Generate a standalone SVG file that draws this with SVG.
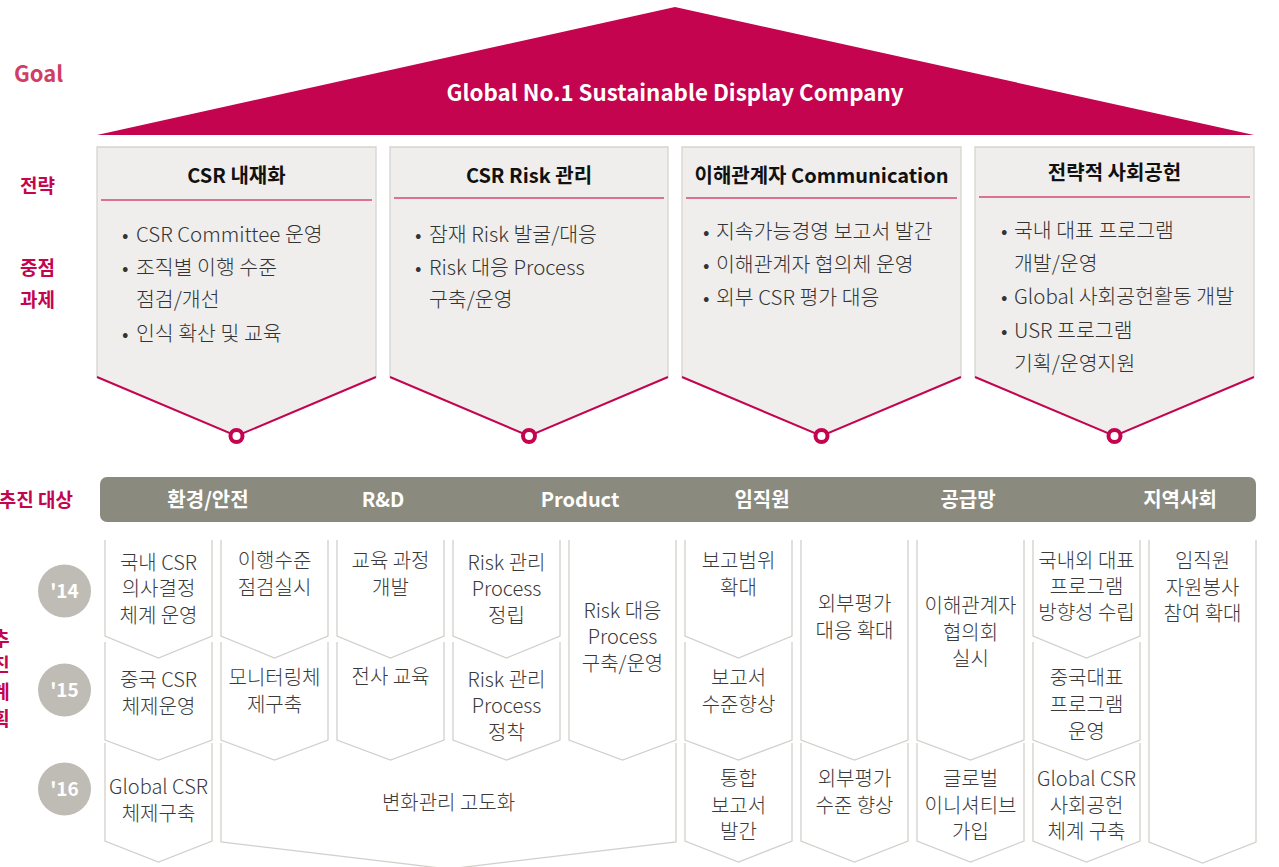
<svg xmlns="http://www.w3.org/2000/svg" width="1279" height="867" viewBox="0 0 1279 867">
<style>
text{font-family:"Noto Sans CJK KR","Noto Sans",sans-serif;}
.lbl{fill:#C4044F;font-weight:700;font-size:19px;}
.goal{fill:#D03D66;font-weight:700;font-size:22px;}
.sbox{fill:#EFEEEC;}
.sside{fill:none;stroke:#D6D4D0;stroke-width:1.3;}
.schev{fill:none;stroke:#C4044F;stroke-width:2;}
.ring{fill:#fff;stroke:#C4044F;stroke-width:4;}
.stitle{fill:#111;font-weight:700;font-size:20px;text-anchor:middle;}
.sline{stroke:#D4477A;stroke-width:1.3;}
.bul{fill:#333;font-weight:300;font-size:20.5px;}
.bar{fill:#8A8A7E;}
.bartxt{fill:#fff;font-weight:700;font-size:20px;text-anchor:middle;}
.yr{fill:#BFBCB5;}
.yrtxt{fill:#fff;font-weight:700;font-size:19px;text-anchor:middle;}
.cell{fill:none;stroke:#D2D0CB;stroke-width:1.3;}
.ct{fill:#3A3A3A;font-weight:300;font-size:20px;text-anchor:middle;}
</style>

<g id="goal">
<polygon points="97,135 675,7 1254,135" fill="#C4044F"/>
<text x="675" y="101" fill="#fff" font-weight="700" font-size="22.3" text-anchor="middle">Global No.1 Sustainable Display Company</text>
</g>

<g id="side-labels">
<text class="goal" x="14" y="82">Goal</text>
<text class="lbl" x="20" y="193">전략</text>
<text class="lbl" x="20" y="275">중점</text>
<text class="lbl" x="20" y="307">과제</text>
<text class="lbl" x="73" y="507" text-anchor="end">추진 대상</text>
<text class="lbl" x="1" y="646" text-anchor="middle">추</text>
<text class="lbl" x="1" y="672" text-anchor="middle">진</text>
<text class="lbl" x="1" y="699" text-anchor="middle">계</text>
<text class="lbl" x="1" y="726" text-anchor="middle">획</text>
</g>

<g id="strategy-1">
<path class="sbox" d="M97,147 H376 V377 L236.5,436 L97,377 Z"/>
<path class="sside" d="M97,377 V147 H376 V377"/>
<path class="schev" d="M97,377 L236.5,436 L376,377"/>
<circle class="ring" cx="236.5" cy="436" r="6"/>
<text class="stitle" x="236.5" y="183">CSR 내재화</text>
<line class="sline" x1="101" y1="200" x2="372" y2="200"/>
<text class="bul" x="122" y="242">•<tspan x="136">CSR Committee 운영</tspan></text>
<text class="bul" x="122" y="275">•<tspan x="136">조직별 이행 수준</tspan></text>
<text class="bul" x="136" y="307">점검/개선</text>
<text class="bul" x="122" y="341">•<tspan x="136">인식 확산 및 교육</tspan></text>
</g>

<g id="strategy-2">
<path class="sbox" d="M390,147 H668 V377 L529,436 L390,377 Z"/>
<path class="sside" d="M390,377 V147 H668 V377"/>
<path class="schev" d="M390,377 L529,436 L668,377"/>
<circle class="ring" cx="529" cy="436" r="6"/>
<text class="stitle" x="529" y="183">CSR Risk 관리</text>
<line class="sline" x1="394" y1="198" x2="664" y2="198"/>
<text class="bul" x="415" y="242">•<tspan x="429">잠재 Risk 발굴/대응</tspan></text>
<text class="bul" x="415" y="275">•<tspan x="429">Risk 대응 Process</tspan></text>
<text class="bul" x="429" y="307">구축/운영</text>
</g>

<g id="strategy-3">
<path class="sbox" d="M682,147 H961 V377 L821.5,436 L682,377 Z"/>
<path class="sside" d="M682,377 V147 H961 V377"/>
<path class="schev" d="M682,377 L821.5,436 L961,377"/>
<circle class="ring" cx="821.5" cy="436" r="6"/>
<text class="stitle" x="821.5" y="183">이해관계자 Communication</text>
<line class="sline" x1="686" y1="198" x2="957" y2="198"/>
<text class="bul" x="703" y="239">•<tspan x="716">지속가능경영 보고서 발간</tspan></text>
<text class="bul" x="703" y="272">•<tspan x="716">이해관계자 협의체 운영</tspan></text>
<text class="bul" x="703" y="305">•<tspan x="716">외부 CSR 평가 대응</tspan></text>
</g>

<g id="strategy-4">
<path class="sbox" d="M975,147 H1254 V377 L1114.5,436 L975,377 Z"/>
<path class="sside" d="M975,377 V147 H1254 V377"/>
<path class="schev" d="M975,377 L1114.5,436 L1254,377"/>
<circle class="ring" cx="1114.5" cy="436" r="6"/>
<text class="stitle" x="1114.5" y="180">전략적 사회공헌</text>
<line class="sline" x1="979" y1="197" x2="1250" y2="197"/>
<text class="bul" x="1001" y="238">•<tspan x="1014">국내 대표 프로그램</tspan></text>
<text class="bul" x="1014" y="271">개발/운영</text>
<text class="bul" x="1001" y="304">•<tspan x="1014">Global 사회공헌활동 개발</tspan></text>
<text class="bul" x="1001" y="338">•<tspan x="1014">USR 프로그램</tspan></text>
<text class="bul" x="1014" y="371">기획/운영지원</text>
</g>

<g id="target-bar">
<rect class="bar" x="100" y="477" width="1156" height="45" rx="7"/>
<text class="bartxt" x="208" y="507">환경/안전</text>
<text class="bartxt" x="383" y="507">R&amp;D</text>
<text class="bartxt" x="580" y="507">Product</text>
<text class="bartxt" x="762" y="507">임직원</text>
<text class="bartxt" x="968" y="507">공급망</text>
<text class="bartxt" x="1180" y="507">지역사회</text>
</g>

<g id="years">
<circle class="yr" cx="64.5" cy="591" r="26.5"/>
<text class="yrtxt" x="64.5" y="598">'14</text>
<circle class="yr" cx="64.5" cy="690" r="26.5"/>
<text class="yrtxt" x="64.5" y="697">'15</text>
<circle class="yr" cx="64.5" cy="789" r="26.5"/>
<text class="yrtxt" x="64.5" y="796">'16</text>
</g>

<g id="col-1">
<path class="cell" d="M105,540 V636 L158.5,658 L212,636 V540"/>
<text class="ct" x="158.5" y="570">국내 CSR</text>
<text class="ct" x="158.5" y="596">의사결정</text>
<text class="ct" x="158.5" y="623">체계 운영</text>
<path class="cell" d="M105,642 V740 L158.5,760 L212,740 V642"/>
<text class="ct" x="158.5" y="687">중국 CSR</text>
<text class="ct" x="158.5" y="714">체제운영</text>
<path class="cell" d="M105,743 V841 L158.5,862 L212,841 V743"/>
<text class="ct" x="158.5" y="794">Global CSR</text>
<text class="ct" x="158.5" y="821">체제구축</text>
</g>

<g id="col-2">
<path class="cell" d="M221,540 V636 L274.5,658 L328,636 V540"/>
<text class="ct" x="274.5" y="568">이행수준</text>
<text class="ct" x="274.5" y="595">점검실시</text>
<path class="cell" d="M221,642 V740 L274.5,760 L328,740 V642"/>
<text class="ct" x="274.5" y="685">모니터링체</text>
<text class="ct" x="274.5" y="712">제구축</text>
</g>

<g id="col-3">
<path class="cell" d="M337,540 V636 L390.5,658 L444,636 V540"/>
<text class="ct" x="390.5" y="568">교육 과정</text>
<text class="ct" x="390.5" y="595">개발</text>
<path class="cell" d="M337,642 V740 L390.5,760 L444,740 V642"/>
<text class="ct" x="390.5" y="684">전사 교육</text>
</g>

<g id="col-4">
<path class="cell" d="M453,540 V636 L506.5,658 L560,636 V540"/>
<text class="ct" x="506.5" y="570">Risk 관리</text>
<text class="ct" x="506.5" y="596">Process</text>
<text class="ct" x="506.5" y="623">정립</text>
<path class="cell" d="M453,642 V740 L506.5,760 L560,740 V642"/>
<text class="ct" x="506.5" y="687">Risk 관리</text>
<text class="ct" x="506.5" y="713">Process</text>
<text class="ct" x="506.5" y="740">정착</text>
</g>

<g id="col-5">
<path class="cell" d="M569,540 V740 L622.5,760 L676,740 V540"/>
<text class="ct" x="622.5" y="618">Risk 대응</text>
<text class="ct" x="622.5" y="644">Process</text>
<text class="ct" x="622.5" y="671">구축/운영</text>
</g>

<g id="change-mgmt">
<path class="cell" d="M221,743 V842 L448.5,869 L676,842 V743"/>
<text class="ct" x="448.5" y="810">변화관리 고도화</text>
</g>

<g id="col-6">
<path class="cell" d="M685,540 V636 L738.5,658 L792,636 V540"/>
<text class="ct" x="738.5" y="568">보고범위</text>
<text class="ct" x="738.5" y="595">확대</text>
<path class="cell" d="M685,642 V740 L738.5,760 L792,740 V642"/>
<text class="ct" x="738.5" y="685">보고서</text>
<text class="ct" x="738.5" y="712">수준향상</text>
<path class="cell" d="M685,743 V841 L738.5,862 L792,841 V743"/>
<text class="ct" x="738.5" y="786">통합</text>
<text class="ct" x="738.5" y="813">보고서</text>
<text class="ct" x="738.5" y="839">발간</text>
</g>

<g id="col-7">
<path class="cell" d="M801,540 V740 L854.5,760 L908,740 V540"/>
<text class="ct" x="854.5" y="611">외부평가</text>
<text class="ct" x="854.5" y="638">대응 확대</text>
<path class="cell" d="M801,743 V841 L854.5,862 L908,841 V743"/>
<text class="ct" x="854.5" y="786">외부평가</text>
<text class="ct" x="854.5" y="813">수준 향상</text>
</g>

<g id="col-8">
<path class="cell" d="M917,540 V740 L970.5,760 L1024,740 V540"/>
<text class="ct" x="970.5" y="613">이해관계자</text>
<text class="ct" x="970.5" y="640">협의회</text>
<text class="ct" x="970.5" y="666">실시</text>
<path class="cell" d="M917,743 V841 L970.5,862 L1024,841 V743"/>
<text class="ct" x="970.5" y="786">글로벌</text>
<text class="ct" x="970.5" y="813">이니셔티브</text>
<text class="ct" x="970.5" y="839">가입</text>
</g>

<g id="col-9">
<path class="cell" d="M1033,540 V636 L1086.5,658 L1140,636 V540"/>
<text class="ct" x="1086.5" y="568">국내외 대표</text>
<text class="ct" x="1086.5" y="594">프로그램</text>
<text class="ct" x="1086.5" y="620">방향성 수립</text>
<path class="cell" d="M1033,642 V740 L1086.5,760 L1140,740 V642"/>
<text class="ct" x="1086.5" y="685">중국대표</text>
<text class="ct" x="1086.5" y="712">프로그램</text>
<text class="ct" x="1086.5" y="739">운영</text>
<path class="cell" d="M1033,743 V841 L1086.5,862 L1140,841 V743"/>
<text class="ct" x="1086.5" y="786">Global CSR</text>
<text class="ct" x="1086.5" y="813">사회공헌</text>
<text class="ct" x="1086.5" y="839">체계 구축</text>
</g>

<g id="col-10">
<path class="cell" d="M1149,540 V842 L1202.5,863 L1256,842 V540"/>
<text class="ct" x="1202.5" y="568">임직원</text>
<text class="ct" x="1202.5" y="595">자원봉사</text>
<text class="ct" x="1202.5" y="621">참여 확대</text>
</g>
</svg>
